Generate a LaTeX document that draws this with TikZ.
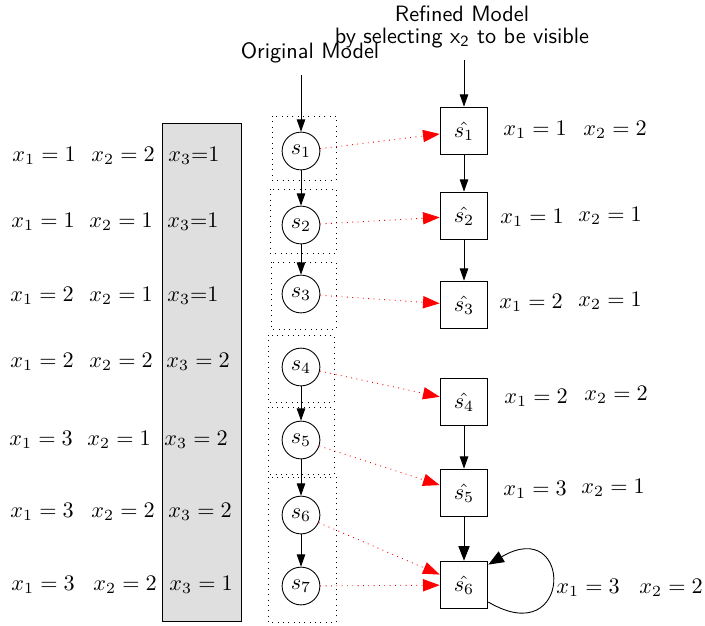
\documentclass[tikz,border=0pt]{standalone}
\usetikzlibrary{arrows.meta}
\begin{document}
\begin{tikzpicture}[
    x=0.45pt, y=-0.45pt,
    >={Triangle[length=5.5pt,width=3.8pt]},
    state/.style={circle, draw, minimum size=17pt, inner sep=0pt},
    hstate/.style={rectangle, draw, minimum size=21.5pt, inner sep=0pt},
    title/.style={font=\sffamily, align=center, inner sep=1pt},
    lbl/.style={inner sep=0pt, anchor=west},
    group/.style={draw, dotted},
    map/.style={red, dotted, -{Triangle[length=7.5pt,width=5.5pt]}}
]
  \useasboundingbox (0,0) rectangle (705,625);

  % shaded column
  \draw[fill=gray!25] (162,123) rectangle (241,621);

  % groups
  \draw[group] (272,116) rectangle (336,180);
  \draw[group] (270,189) rectangle (336,253);
  \draw[group] (271,262) rectangle (336,329);
  \draw[group] (268,335) rectangle (334,402);
  \draw[group] (268,407) rectangle (334,474);
  \draw[group] (268,477) rectangle (336,622);

  % titles
  \node[title] (orig) at (310,53) {Original Model};
  \node[title] (refd) at (462,27) {Refined Model\\[-2pt]by selecting x\textsubscript{2} to be visible};

  % original states
  \node[state] (s1) at (301,151) {$s_1$};
  \node[state] (s2) at (301,225) {$s_2$};
  \node[state] (s3) at (301,294) {$s_3$};
  \node[state] (s4) at (301,367) {$s_4$};
  \node[state] (s5) at (301,440) {$s_5$};
  \node[state] (s6) at (301,515) {$s_6$};
  \node[state] (s7) at (301,586) {$s_7$};

  % refined states
  \node[hstate] (h1) at (464,131) {$\hat{s_1}$};
  \node[hstate] (h2) at (464,216) {$\hat{s_2}$};
  \node[hstate] (h3) at (464,305) {$\hat{s_3}$};
  \node[hstate] (h4) at (464,402) {$\hat{s_4}$};
  \node[hstate] (h5) at (464,493) {$\hat{s_5}$};
  \node[hstate] (h6) at (464,585) {$\hat{s_6}$};

  % valuations of the original states
  \node[lbl] (a1) at (12,156) {$x_1 = 1$};
  \node[lbl] (b1) at (91,156) {$x_2 = 2$};
  \node[lbl] (c1) at (168,156) {$x_3{=}1$};
  \node[lbl] (a2) at (11,222) {$x_1 = 1$};
  \node[lbl] (b2) at (89,222) {$x_2 = 1$};
  \node[lbl] (c2) at (167,222) {$x_3{=}1$};
  \node[lbl] (a3) at (10,296) {$x_1 = 2$};
  \node[lbl] (b3) at (89,296) {$x_2 = 1$};
  \node[lbl] (c3) at (167,296) {$x_3{=}1$};
  \node[lbl] (a4) at (10,362) {$x_1 = 2$};
  \node[lbl] (b4) at (89,362) {$x_2 = 2$};
  \node[lbl] (c4) at (166,362) {$x_3 = 2$};
  \node[lbl] (a5) at (9,440) {$x_1 = 3$};
  \node[lbl] (b5) at (87,440) {$x_2 = 1$};
  \node[lbl] (c5) at (164,440) {$x_3 = 2$};
  \node[lbl] (a6) at (10,512) {$x_1 = 3$};
  \node[lbl] (b6) at (91,512) {$x_2 = 2$};
  \node[lbl] (c6) at (168,512) {$x_3 = 2$};
  \node[lbl] (a7) at (11,585) {$x_1 = 3$};
  \node[lbl] (b7) at (93,585) {$x_2 = 2$};
  \node[lbl] (c7) at (169,585) {$x_3 = 1$};

  % valuations of the refined states
  \node[lbl] (p1) at (503,130) {$x_1 = 1$};
  \node[lbl] (q1) at (583,130) {$x_2 = 2$};
  \node[lbl] (p2) at (500,218) {$x_1 = 1$};
  \node[lbl] (q2) at (578,216) {$x_2 = 1$};
  \node[lbl] (p3) at (499,303) {$x_1 = 2$};
  \node[lbl] (q3) at (578,301) {$x_2 = 1$};
  \node[lbl] (p4) at (504,398) {$x_1 = 2$};
  \node[lbl] (q4) at (584,395) {$x_2 = 2$};
  \node[lbl] (p5) at (503,490) {$x_1 = 3$};
  \node[lbl] (q5) at (581,488) {$x_2 = 1$};
  \node[lbl] (p6) at (556,588) {$x_1 = 3$};
  \node[lbl] (q6) at (639,588) {$x_2 = 2$};

  % edges
  \draw[->, shorten <=4pt] (orig.south -| s1) -- (s1);
  \draw[->, shorten <=4pt] (refd.south -| h1) -- (h1);
  \draw[->] (s1) -- (s2);
  \draw[->] (s2) -- (s3);
  \draw[->] (s4) -- (s5);
  \draw[->] (s5) -- (s6);
  \draw[->] (s6) -- (s7);
  \draw[->] (h1) -- (h2);
  \draw[->] (h2) -- (h3);
  \draw[->] (h4) -- (h5);
  \draw[-{Triangle[length=6.5pt,width=5pt]}] (h5) -- (h6);
  \draw[-{Triangle[length=7pt,width=5.5pt]}] (h6.-35) .. controls +(85,50) and +(85,-50) .. (h6.40);

  % mapping
  \draw[map] (s1) -- (h1);
  \draw[map] (s2) -- (h2);
  \draw[map] (s3) -- (h3);
  \draw[map] (s4) -- (h4);
  \draw[map] (s5) -- (h5);
  \draw[map] (s6) -- (h6);
  \draw[map] (s7) -- (h6);
\end{tikzpicture}
\end{document}
